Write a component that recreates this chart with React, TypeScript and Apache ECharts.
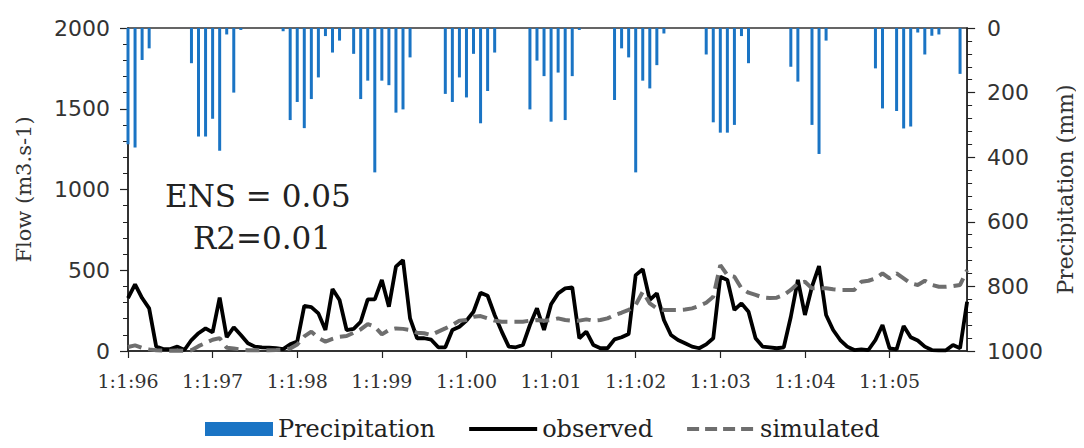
import React, { useEffect, useRef } from "react";
import * as echarts from "echarts";

const years: string[] = ["96", "97", "98", "99", "00", "01", "02", "03", "04", "05"];
const categories: string[] = years.flatMap((yy) =>
  Array.from({ length: 12 }, (_, i) => `1:${i + 1}:${yy}`)
);

// Monthly precipitation (mm), one row per year
const precipitation: number[] = [
  360, 370, 99, 63, 0, 0, 0, 0, 0, 109, 336, 336,
  281, 380, 20, 200, 6, 0, 0, 0, 0, 0, 10, 285,
  229, 310, 220, 153, 25, 76, 39, 0, 80, 220, 163, 447,
  163, 177, 262, 252, 91, 0, 0, 0, 0, 204, 229, 153,
  215, 80, 295, 195, 76, 0, 0, 0, 0, 252, 101, 149,
  290, 138, 285, 149, 6, 0, 0, 0, 0, 223, 63, 91,
  447, 163, 187, 115, 17, 0, 0, 0, 0, 0, 82, 292,
  324, 324, 300, 25, 109, 0, 0, 0, 0, 0, 120, 166,
  0, 300, 390, 39, 0, 0, 0, 0, 0, 0, 125, 249,
  0, 257, 311, 305, 14, 82, 24, 20, 0, 0, 142, 0,
];

// Observed flow (m3/s)
const observed: number[] = [
  328, 413, 328, 264, 27, 12, 12, 27, 6, 68, 110, 140,
  115, 330, 85, 147, 99, 48, 27, 23, 21, 17, 12, 41,
  58, 279, 272, 233, 130, 384, 316, 130, 137, 181, 320, 320,
  440, 274, 522, 563, 202, 79, 79, 70, 23, 23, 130, 150,
  188, 243, 361, 342, 223, 120, 27, 23, 37, 161, 264, 130,
  290, 357, 388, 394, 79, 120, 37, 17, 17, 72, 85, 105,
  470, 506, 316, 357, 192, 99, 68, 48, 27, 17, 41, 79,
  460, 440, 254, 295, 243, 79, 27, 23, 17, 23, 212, 440,
  223, 398, 526, 223, 130, 68, 27, 6, 10, 6, 68, 161,
  17, 10, 155, 85, 65, 27, 6, 4, 4, 37, 17, 305,
];

// Simulated flow (m3/s)
const simulated: number[] = [
  25, 35, 20, 10, 5, 3, 2, 3, 2, 5, 30, 50,
  70, 80, 20, 15, 10, 5, 4, 5, 5, 6, 8, 15,
  40, 90, 120, 80, 58, 75, 88, 93, 113, 134, 167, 150,
  103, 130, 140, 137, 130, 113, 110, 99, 120, 140, 161, 188,
  192, 212, 216, 202, 188, 181, 181, 181, 181, 188, 192, 188,
  192, 202, 192, 188, 188, 196, 188, 192, 202, 223, 237, 254,
  285, 367, 295, 264, 254, 254, 254, 257, 264, 279, 299, 336,
  532, 470, 460, 388, 361, 347, 332, 328, 330, 347, 378, 419,
  429, 388, 388, 388, 382, 378, 378, 378, 429, 435, 450, 481,
  450, 481, 450, 419, 409, 435, 409, 398, 398, 402, 409, 501,
];

const statsLines: string[] = ["ENS = 0.05", "R2=0.01"];

export default function App() {
  const ref = useRef<HTMLDivElement>(null);

  useEffect(() => {
    if (!ref.current) return;
    const chart = echarts.init(ref.current, undefined, { renderer: "svg" });
    const serif = "DejaVu Serif";
    const sans = "DejaVu Sans";
    const textColor = "#333";
    const hideSymbol = { opacity: 0, color: "transparent", borderWidth: 0 };
    chart.setOption({
      animation: false,
      backgroundColor: "#fff",
      grid: {
        left: 128,
        right: 99,
        top: 28,
        bottom: 97,
        show: true,
        borderColor: "#333",
        borderWidth: 1.5,
      },
      legend: {
        bottom: 2,
        left: 200,
        itemWidth: 68,
        itemHeight: 14,
        itemGap: 32,
        textStyle: { fontFamily: serif, fontSize: 24, color: "#222" },
        data: [
          { name: "Precipitation", icon: "rect" },
          {
            name: "observed",
            itemStyle: hideSymbol,
            lineStyle: { width: 4, color: "#000" },
          },
          {
            name: "simulated",
            itemStyle: hideSymbol,
            lineStyle: { width: 4, color: "#6e6e6e", type: [12, 6] },
          },
        ],
      },
      xAxis: {
        type: "category",
        data: categories,
        boundaryGap: false,
        axisLine: { lineStyle: { color: "#222", width: 1.5 } },
        axisTick: {
          interval: 11,
          length: 7,
          lineStyle: { color: "#222", width: 1.2 },
        },
        axisLabel: {
          interval: 11,
          margin: 20,
          fontFamily: serif,
          fontSize: 19,
          color: textColor,
        },
        splitLine: { show: false },
      },
      yAxis: [
        {
          type: "value",
          min: 0,
          max: 2000,
          interval: 500,
          name: "Flow (m3.s-1)",
          nameLocation: "middle",
          nameGap: 94,
          nameRotate: 90,
          nameTextStyle: { fontFamily: serif, fontSize: 21, color: textColor },
          axisLine: { show: true, lineStyle: { color: "#222", width: 1.5 } },
          axisTick: { show: true, length: 8, lineStyle: { color: "#222", width: 1.2 } },
          minorTick: { show: true, splitNumber: 5, length: 5, lineStyle: { color: "#222", width: 1 } },
          axisLabel: {
            fontFamily: sans,
            fontSize: 22,
            color: textColor,
            margin: 18,
            formatter: (v: number) => String(v),
          },
          splitLine: { show: false },
        },
        {
          type: "value",
          min: 0,
          max: 1000,
          interval: 200,
          inverse: true,
          position: "right",
          name: "Precipitation (mm)",
          nameLocation: "middle",
          nameGap: 84,
          nameRotate: 90,
          nameTextStyle: { fontFamily: serif, fontSize: 22, color: textColor },
          axisLine: { show: true, lineStyle: { color: "#222", width: 1.5 } },
          axisTick: { show: true, length: 8, lineStyle: { color: "#222", width: 1.2 } },
          minorTick: { show: true, splitNumber: 5, length: 5, lineStyle: { color: "#222", width: 1 } },
          axisLabel: {
            fontFamily: sans,
            fontSize: 22,
            color: textColor,
            margin: 20,
            formatter: (v: number) => String(v),
          },
          splitLine: { show: false },
        },
      ],
      series: [
        {
          name: "Precipitation",
          type: "bar",
          yAxisIndex: 1,
          data: precipitation,
          barWidth: 3,
          itemStyle: { color: "#1a74c4" },
        },
        {
          name: "observed",
          type: "line",
          yAxisIndex: 0,
          data: observed,
          symbol: "none",
          lineStyle: { color: "#000", width: 3.8 },
          itemStyle: { color: "#000" },
        },
        {
          name: "simulated",
          type: "line",
          yAxisIndex: 0,
          data: simulated,
          symbol: "none",
          lineStyle: { color: "#6e6e6e", width: 4, type: [14, 7] },
          itemStyle: { color: "#6e6e6e" },
        },
      ],
      graphic: [
        {
          type: "text",
          left: 165,
          top: 180,
          style: {
            text: statsLines[0],
            fontFamily: serif,
            fontSize: 31,
            fill: "#222",
          },
        },
        {
          type: "text",
          left: 193,
          top: 222,
          style: {
            text: statsLines[1],
            fontFamily: serif,
            fontSize: 31,
            fill: "#222",
          },
        },
      ],
    });
    return () => chart.dispose();
  }, []);

  return <div ref={ref} style={{ width: 1084, height: 448, margin: -8 }} />;
}
